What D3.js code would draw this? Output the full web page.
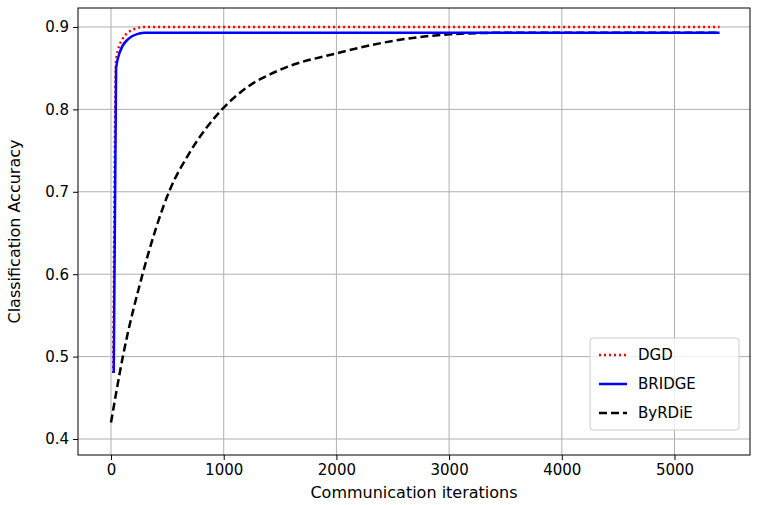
<!DOCTYPE html>
<html><head><meta charset="utf-8">
<script src="https://cdn.jsdelivr.net/npm/d3@7"></script>
<style>body{margin:0;background:#fff}text{font-family:"DejaVu Sans",sans-serif}</style>
</head><body><svg id="c" width="757" height="505"></svg>
<script>
const xTicks = [0, 1000, 2000, 3000, 4000, 5000];
const yTicks = [0.4, 0.5, 0.6, 0.7, 0.8, 0.9];
const dgdX = [20, 45, 100, 200, 300, 5400];
const dgdY = [0.48, 0.86, 0.885, 0.897, 0.9, 0.9];
const bridgeX = [24, 45, 80, 150, 250, 300, 5400];
const bridgeY = [0.48, 0.85, 0.87, 0.885, 0.892, 0.893, 0.893];
const byrdieX = [0, 105, 280, 515, 700, 985, 1200, 1500, 2000, 2500, 3000, 3500, 5400];
const byrdieY = [0.42, 0.5, 0.6, 0.7, 0.748, 0.8, 0.826, 0.848, 0.868, 0.883, 0.891, 0.893, 0.893];

const svg = d3.select("#c");
const L = 78, R = 750, T = 8, B = 455;
const x = d3.scaleLinear().domain([-293, 5670]).range([L, R]);
const y = d3.scaleLinear().domain([0.3806, 0.923]).range([B, T]);

svg.append("g").selectAll("line").data(xTicks).join("line")
  .attr("x1", d => x(d)).attr("x2", d => x(d)).attr("y1", T).attr("y2", B)
  .attr("stroke", "#b0b0b0").attr("stroke-width", 1);
svg.append("g").selectAll("line").data(yTicks).join("line")
  .attr("y1", d => y(d)).attr("y2", d => y(d)).attr("x1", L).attr("x2", R)
  .attr("stroke", "#b0b0b0").attr("stroke-width", 1);

const xa = svg.append("g").attr("transform", `translate(0,${B})`)
  .call(d3.axisBottom(x).tickValues(xTicks).tickSize(5).tickPadding(4).tickFormat(d3.format("d")));
const ya = svg.append("g").attr("transform", `translate(${L},0)`)
  .call(d3.axisLeft(y).tickValues(yTicks).tickSize(5).tickPadding(4).tickFormat(d3.format(".1f")));
[xa, ya].forEach(a => {
  a.select(".domain").remove();
  a.selectAll("text").attr("font-size", 15).attr("fill", "#000").style("font-family", "DejaVu Sans");
});
svg.append("rect").attr("x", L).attr("y", T).attr("width", R - L).attr("height", B - T)
  .attr("fill", "none").attr("stroke", "#000").attr("stroke-width", 1);

const line = d3.line().x(d => x(d[0])).y(d => y(d[1])).curve(d3.curveMonotoneX);
const series = [
  {name: "DGD", xs: dgdX, ys: dgdY, color: "red", dash: "2,3"},
  {name: "BRIDGE", xs: bridgeX, ys: bridgeY, color: "blue", dash: null},
  {name: "ByRDiE", xs: byrdieX, ys: byrdieY, color: "black", dash: "8,4"}
];
[series[2], series[0], series[1]].forEach(s => {
  svg.append("path").datum(d3.zip(s.xs, s.ys)).attr("d", line)
    .attr("fill", "none").attr("stroke", s.color).attr("stroke-width", 2.5)
    .attr("stroke-dasharray", s.dash);
});

svg.append("text").attr("x", (L + R) / 2).attr("y", 498).attr("text-anchor", "middle")
  .attr("font-size", 16).text("Communication iterations");
svg.append("text").attr("transform", `translate(20,${(T + B) / 2}) rotate(-90)`)
  .attr("text-anchor", "middle").attr("font-size", 16).text("Classification Accuracy");

const lg = svg.append("g").attr("transform", "translate(590,338)");
lg.append("rect").attr("width", 149).attr("height", 92).attr("rx", 3)
  .attr("fill", "#fff").attr("fill-opacity", 0.8).attr("stroke", "#ccc");
series.forEach((s, i) => {
  const yy = 17 + i * 29;
  lg.append("line").attr("x1", 9).attr("x2", 37).attr("y1", yy).attr("y2", yy)
    .attr("stroke", s.color).attr("stroke-width", 2.5).attr("stroke-dasharray", s.dash);
  lg.append("text").attr("x", 48).attr("y", yy + 5).attr("font-size", 15).text(s.name);
});
</script></body></html>
